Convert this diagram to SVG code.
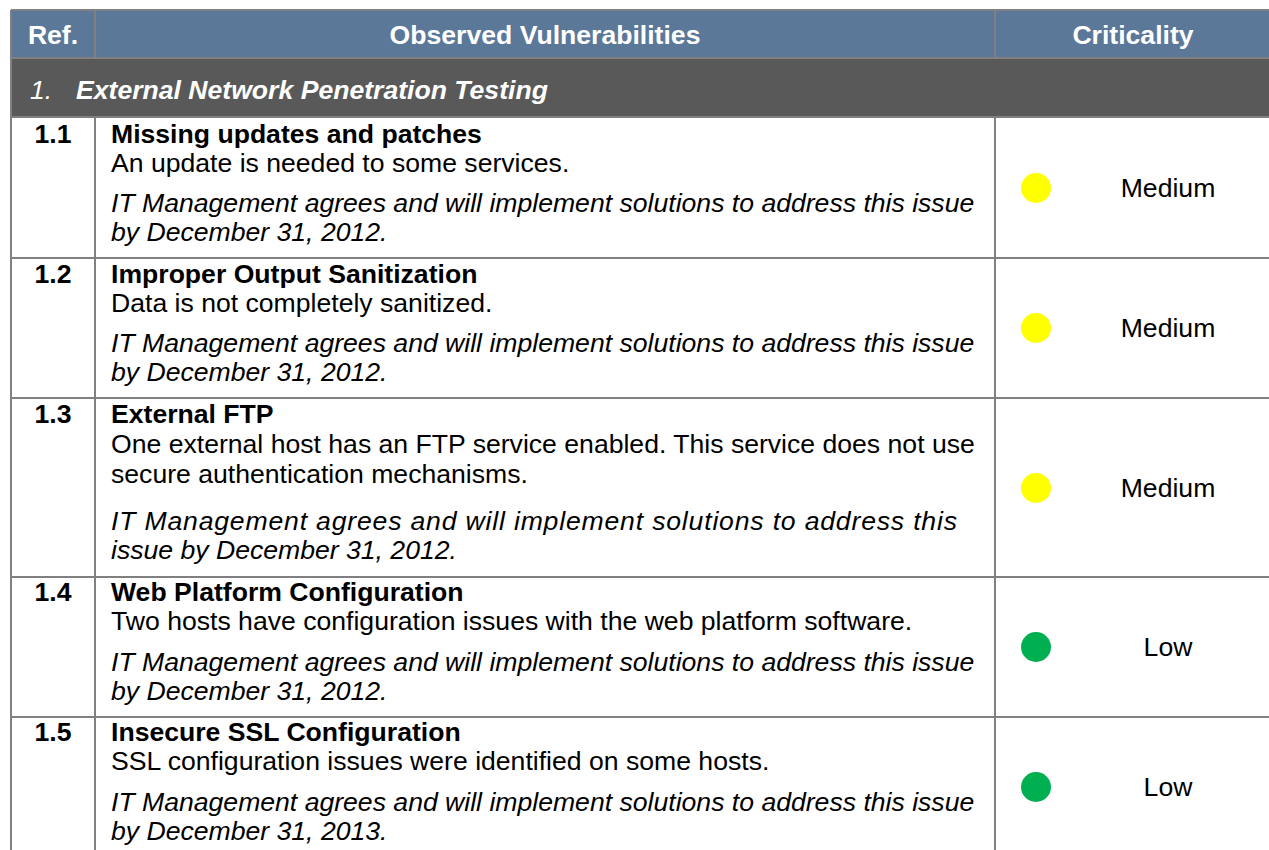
<svg xmlns="http://www.w3.org/2000/svg" width="1269" height="850" viewBox="0 0 1269 850">
<style>
text{font-family:"Liberation Sans",Arial,sans-serif;font-size:26.6px;fill:#000}
.h{fill:#fff;font-weight:bold;text-anchor:middle}
.s{fill:#fff;font-style:italic}
.b{font-weight:bold}
.i{font-style:italic}
.c{text-anchor:middle}
.ln{stroke:#808080;stroke-width:2;fill:none}
.med{fill:#FFFF00}
.low{fill:#00B050}
</style>
<rect width="1269" height="850" fill="#fff"/>
<g id="header">
<rect x="11" y="10" width="1262" height="48" fill="#5B7899"/>
<text class="h" x="53" y="44">Ref.</text>
<text class="h" x="545" y="44">Observed Vulnerabilities</text>
<text class="h" x="1133" y="44">Criticality</text>
</g>
<g id="section">
<rect x="11" y="58" width="1262" height="59" fill="#595959"/>
<text class="s" x="30" y="99">1.</text>
<text class="s b" x="76" y="99">External Network Penetration Testing</text>
</g>
<g id="grid">
<path class="ln" d="M11 10H1273M11 58H1273M11 117H1273M11 258H1273M11 398H1273M11 577H1273M11 717H1273"/>
<path class="ln" d="M11 10V850M95 10V58M95 117V850M995 10V58M995 117V850"/>
</g>
<g id="row1-1">
<text class="b c" x="53" y="143">1.1</text>
<text class="b" x="111" y="143">Missing updates and patches</text>
<text x="111" y="172">An update is needed to some services.</text>
<text class="i" x="111" y="212">IT Management agrees and will implement solutions to address this issue</text>
<text class="i" x="111" y="241">by December 31, 2012.</text>
<circle class="med" cx="1036" cy="188" r="15"/>
<text class="c" x="1168" y="197">Medium</text>
</g>
<g id="row1-2">
<text class="b c" x="53" y="283">1.2</text>
<text class="b" x="111" y="283">Improper Output Sanitization</text>
<text x="111" y="312">Data is not completely sanitized.</text>
<text class="i" x="111" y="352">IT Management agrees and will implement solutions to address this issue</text>
<text class="i" x="111" y="381">by December 31, 2012.</text>
<circle class="med" cx="1036" cy="328" r="15"/>
<text class="c" x="1168" y="337">Medium</text>
</g>
<g id="row1-3">
<text class="b c" x="53" y="423">1.3</text>
<text class="b" x="111" y="423">External FTP</text>
<text x="111" y="453">One external host has an FTP service enabled. This service does not use</text>
<text x="111" y="483">secure authentication mechanisms.</text>
<text class="i" x="111" y="530" textLength="846" lengthAdjust="spacing">IT Management agrees and will implement solutions to address this</text>
<text class="i" x="111" y="559">issue by December 31, 2012.</text>
<circle class="med" cx="1036" cy="488" r="15"/>
<text class="c" x="1168" y="497">Medium</text>
</g>
<g id="row1-4">
<text class="b c" x="53" y="601">1.4</text>
<text class="b" x="111" y="601">Web Platform Configuration</text>
<text x="111" y="630">Two hosts have configuration issues with the web platform software.</text>
<text class="i" x="111" y="671">IT Management agrees and will implement solutions to address this issue</text>
<text class="i" x="111" y="700">by December 31, 2012.</text>
<circle class="low" cx="1036" cy="647" r="15"/>
<text class="c" x="1168" y="656">Low</text>
</g>
<g id="row1-5">
<text class="b c" x="53" y="741">1.5</text>
<text class="b" x="111" y="741">Insecure SSL Configuration</text>
<text x="111" y="770">SSL configuration issues were identified on some hosts.</text>
<text class="i" x="111" y="811">IT Management agrees and will implement solutions to address this issue</text>
<text class="i" x="111" y="840">by December 31, 2013.</text>
<circle class="low" cx="1036" cy="787" r="15"/>
<text class="c" x="1168" y="796">Low</text>
</g>
</svg>
